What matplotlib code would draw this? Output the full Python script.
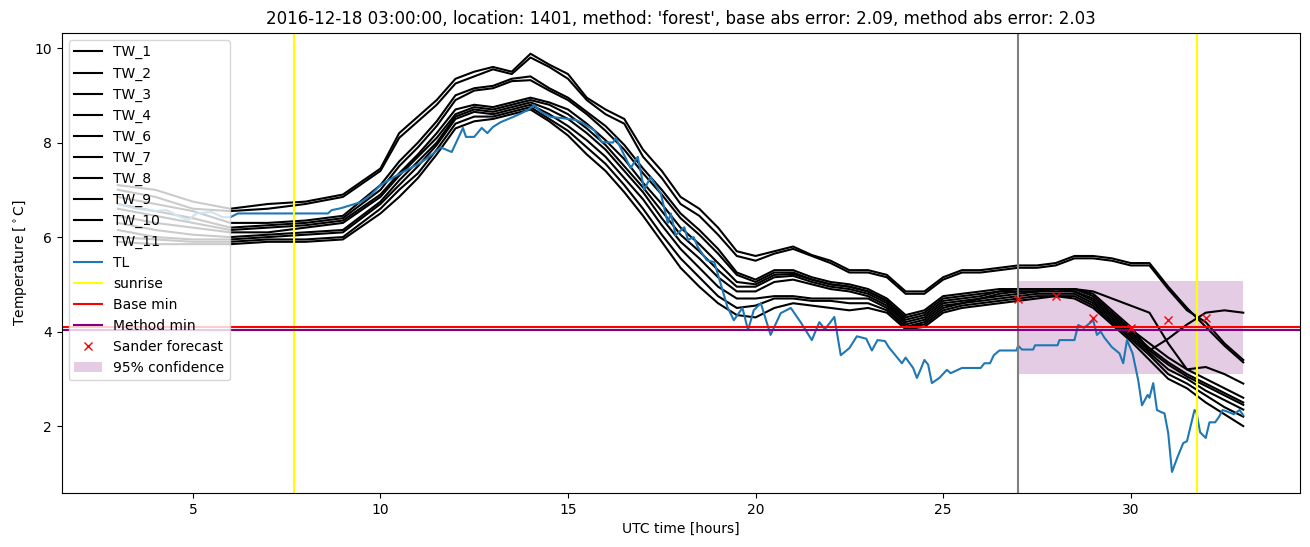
import matplotlib
matplotlib.use("Agg")
import matplotlib.pyplot as plt

# road sensor series, hours since start of previous day (UTC)
HOURS = [3, 4, 5, 6, 7, 8, 9, 10,
         10.5, 11, 11.5, 12, 12.5, 13, 13.5, 14, 14.5, 15, 15.5, 16, 16.5, 17, 17.5, 18,
         18.5, 19, 19.5, 20, 20.5, 21, 21.5, 22, 22.5, 23, 23.5, 24, 24.5, 25, 25.5, 26,
         26.5, 27, 27.5, 28, 28.5, 29, 29.5, 30, 30.5, 31, 31.5, 32, 32.5, 33]

TW_LABELS = ["TW_1", "TW_2", "TW_3", "TW_4", "TW_6", "TW_7", "TW_8", "TW_9", "TW_10", "TW_11"]

TW_1 = [7.1, 7.0, 6.75, 6.6, 6.7, 6.75, 6.9, 7.45,
        8.2, 8.55, 8.9, 9.35, 9.5, 9.6, 9.5, 9.88, 9.65, 9.45, 8.95, 8.7, 8.5, 7.85, 7.4, 6.85,
        6.6, 6.2, 5.7, 5.6, 5.7, 5.8, 5.62, 5.5, 5.3, 5.3, 5.2, 4.85, 4.85, 5.15, 5.3, 5.3,
        5.35, 5.4, 5.4, 5.45, 5.6, 5.6, 5.55, 5.45, 5.45, 4.95, 4.5, 4.1, 3.7, 3.35]
TW_2 = [7.0, 6.85, 6.6, 6.55, 6.6, 6.7, 6.85, 7.4,
        8.1, 8.45, 8.8, 9.25, 9.4, 9.55, 9.45, 9.8, 9.6, 9.35, 8.9, 8.6, 8.4, 7.7, 7.25, 6.7,
        6.45, 6.05, 5.6, 5.5, 5.65, 5.75, 5.6, 5.45, 5.25, 5.25, 5.15, 4.8, 4.8, 5.1, 5.25, 5.25,
        5.3, 5.35, 5.35, 5.4, 5.55, 5.55, 5.5, 5.4, 5.4, 4.9, 4.45, 4.2, 3.75, 3.4]
TW_3 = [6.85, 6.7, 6.55, 6.3, 6.3, 6.35, 6.45, 7.1,
        7.6, 8.0, 8.45, 9.0, 9.15, 9.2, 9.35, 9.4, 9.15, 8.95, 8.65, 8.35, 7.95, 7.45, 7.0, 6.5,
        6.15, 5.75, 5.25, 5.1, 5.3, 5.3, 5.15, 5.05, 5.0, 4.9, 4.7, 4.35, 4.45, 4.75, 4.8, 4.85,
        4.9, 4.9, 4.9, 4.9, 4.9, 4.85, 4.7, 4.55, 4.4, 3.75, 3.2, 3.25, 3.1, 2.9]
TW_4 = [6.7, 6.55, 6.4, 6.2, 6.25, 6.3, 6.4, 7.0,
        7.5, 7.9, 8.35, 8.9, 9.1, 9.15, 9.3, 9.32, 9.1, 8.9, 8.6, 8.25, 7.85, 7.35, 6.9, 6.4,
        6.05, 5.65, 5.2, 5.05, 5.25, 5.25, 5.1, 5.0, 4.95, 4.85, 4.65, 4.3, 4.4, 4.7, 4.75, 4.8,
        4.85, 4.85, 4.85, 4.9, 4.9, 4.8, 4.45, 4.1, 3.6, 3.85, 4.15, 4.4, 4.45, 4.4]
TW_6 = [6.6, 6.45, 6.3, 6.15, 6.2, 6.25, 6.35, 6.9,
        7.35, 7.75, 8.2, 8.7, 8.8, 8.75, 8.85, 8.95, 8.85, 8.7, 8.4, 8.05, 7.65, 7.15, 6.7, 6.2,
        5.85, 5.45, 5.05, 5.0, 5.2, 5.22, 5.1, 5.0, 4.95, 4.85, 4.65, 4.25, 4.35, 4.65, 4.7, 4.75,
        4.85, 4.9, 4.9, 4.9, 4.9, 4.75, 4.4, 4.05, 3.75, 3.45, 3.2, 3.0, 2.8, 2.6]
TW_7 = [6.45, 6.3, 6.2, 6.1, 6.1, 6.2, 6.3, 6.85,
        7.3, 7.7, 8.1, 8.6, 8.75, 8.7, 8.8, 8.9, 8.8, 8.6, 8.3, 7.95, 7.5, 7.05, 6.55, 6.05,
        5.7, 5.3, 4.95, 4.95, 5.15, 5.18, 5.05, 4.95, 4.9, 4.8, 4.6, 4.2, 4.3, 4.6, 4.65, 4.7,
        4.8, 4.85, 4.85, 4.9, 4.85, 4.7, 4.35, 4.0, 3.65, 3.35, 3.1, 2.9, 2.7, 2.5]
TW_8 = [6.3, 6.15, 6.05, 6.0, 6.05, 6.1, 6.15, 6.75,
        7.2, 7.6, 8.0, 8.55, 8.7, 8.65, 8.75, 8.85, 8.7, 8.5, 8.2, 7.85, 7.4, 6.95, 6.4, 5.9,
        5.55, 5.15, 4.85, 4.85, 5.05, 5.1, 5.0, 4.9, 4.85, 4.75, 4.55, 4.15, 4.25, 4.55, 4.6, 4.7,
        4.75, 4.8, 4.85, 4.85, 4.85, 4.65, 4.3, 3.95, 3.6, 3.3, 3.05, 2.85, 2.65, 2.45]
TW_9 = [6.15, 6.0, 5.95, 5.95, 6.0, 6.05, 6.1, 6.7,
        7.1, 7.5, 7.95, 8.5, 8.65, 8.6, 8.7, 8.8, 8.6, 8.35, 8.05, 7.7, 7.25, 6.8, 6.25, 5.75,
        5.35, 4.95, 4.7, 4.7, 4.75, 4.75, 4.7, 4.7, 4.7, 4.7, 4.5, 4.1, 4.2, 4.5, 4.6, 4.65,
        4.7, 4.75, 4.8, 4.8, 4.8, 4.6, 4.25, 3.9, 3.55, 3.2, 3.0, 2.75, 2.55, 2.35]
TW_10 = [6.0, 5.95, 5.9, 5.9, 5.95, 5.95, 6.0, 6.6,
         7.0, 7.35, 7.85, 8.4, 8.55, 8.55, 8.65, 8.75, 8.5, 8.25, 7.9, 7.55, 7.1, 6.6, 6.05, 5.55,
         5.15, 4.75, 4.5, 4.55, 4.7, 4.7, 4.65, 4.65, 4.6, 4.6, 4.45, 4.1, 4.15, 4.45, 4.55, 4.6,
         4.65, 4.7, 4.75, 4.75, 4.75, 4.55, 4.2, 3.85, 3.5, 3.1, 2.9, 2.65, 2.4, 2.2]
TW_11 = [5.9, 5.85, 5.85, 5.85, 5.9, 5.9, 5.95, 6.5,
         6.85, 7.25, 7.75, 8.3, 8.45, 8.5, 8.6, 8.7, 8.45, 8.15, 7.75, 7.4, 6.95, 6.45, 5.9, 5.35,
         4.95, 4.6, 4.35, 4.3, 4.5, 4.6, 4.55, 4.5, 4.45, 4.5, 4.4, 4.05, 4.1, 4.4, 4.5, 4.55,
         4.6, 4.65, 4.7, 4.75, 4.7, 4.5, 4.15, 3.8, 3.4, 3.0, 2.8, 2.5, 2.25, 2.0]

TL_HOURS = [3.0, 3.5, 4.0, 4.3, 4.6, 4.87, 5.1, 5.5, 5.8, 6.0, 6.2, 8.6, 8.7, 8.94, 9.48, 9.74,
            10.0, 10.36, 10.7, 11.07, 11.43, 11.6, 11.9, 12.2, 12.28, 12.5, 12.7, 12.85, 13.0,
            13.2, 13.56, 13.7, 13.93, 14.1, 14.28, 14.55, 14.81, 15.2, 15.4, 15.7, 15.9, 16.2,
            16.27, 16.67, 16.86, 17.03, 17.2, 17.47, 17.66, 17.74, 17.87, 18.1, 18.2, 18.35,
            18.46, 18.7, 18.9, 19.25, 19.42, 19.65, 19.8, 19.95, 20.14, 20.4, 20.67, 20.94,
            21.2, 21.5, 21.7, 21.85, 22.1, 22.27, 22.5, 22.7, 22.95, 23.1, 23.25, 23.45, 23.55,
            23.9, 24.0, 24.2, 24.3, 24.4, 24.5, 24.6, 24.7, 24.9, 25.1, 25.2, 25.5, 26.0, 26.1,
            26.25, 26.35, 26.5, 26.95, 27.0, 27.1, 27.4, 27.45, 28.05, 28.1, 28.5, 28.6, 28.75,
            28.85, 29.0, 29.1, 29.2, 29.3, 29.5, 29.7, 29.8, 29.9, 30.05, 30.2, 30.3, 30.45,
            30.5, 30.6, 30.7, 30.8, 30.9, 31.0, 31.1, 31.25, 31.4, 31.5, 31.7, 31.75, 31.85,
            32.0, 32.1, 32.25, 32.35, 32.45, 32.6, 32.75, 32.9, 33.0]
TL = [6.7, 6.6, 6.55, 6.57, 6.45, 6.36, 6.5, 6.53, 6.42, 6.42, 6.5, 6.5, 6.57, 6.61, 6.74, 6.89,
      7.1, 7.27, 7.42, 7.57, 7.78, 7.9, 7.8, 8.31, 8.12, 8.12, 8.31, 8.2, 8.33,
      8.43, 8.55, 8.6, 8.69, 8.79, 8.65, 8.54, 8.52, 8.48, 8.41, 8.26, 8.01, 8.0,
      8.1, 7.46, 7.7, 7.0, 7.27, 6.93, 6.3, 6.5, 6.04, 6.21, 5.94, 6.0,
      5.79, 5.51, 5.47, 4.52, 4.24, 4.5, 4.03, 4.45, 4.6, 3.93, 4.39, 4.5,
      4.2, 3.82, 4.2, 4.05, 4.31, 3.5, 3.65, 3.9, 3.85, 3.6, 3.82, 3.8, 3.67,
      3.33, 3.45, 3.23, 3.02, 3.2, 3.4, 3.3, 2.91, 3.02, 3.19, 3.12, 3.23, 3.23, 3.33,
      3.33, 3.5, 3.6, 3.6, 3.7, 3.62, 3.62, 3.71, 3.71, 3.82, 3.82, 4.14, 4.08,
      4.14, 4.24, 3.93, 4.0, 3.87, 3.67, 3.54, 3.33, 3.82, 3.54, 2.97, 2.44, 2.66,
      2.6, 2.91, 2.34, 2.3, 2.27, 1.85, 1.03, 1.35, 1.64, 1.68, 2.34, 2.3, 1.87,
      1.75, 2.08, 2.08, 2.19, 2.34, 2.3, 2.25, 2.34, 2.23]

SUNRISE = [7.69, 31.76]
FORECAST_TIME = 27.0
BASE_MIN = 4.1
METHOD_MIN = 4.04
SANDER_HOURS = [27, 28, 29, 30, 31, 32]
SANDER = [4.70, 4.75, 4.28, 4.08, 4.24, 4.28]
CONF_HOURS = [27, 33]
CONF_LOW = [3.11, 3.11]
CONF_HIGH = [5.07, 5.07]

TITLE = ("2016-12-18 03:00:00, location: 1401, method: 'forest', "
         "base abs error: 2.09, method abs error: 2.03")


def main() -> None:
    fig, ax = plt.subplots(figsize=(13.1, 5.47), dpi=100)
    fig.subplots_adjust(left=0.047, right=0.992, top=0.94, bottom=0.099)

    tw = [TW_1, TW_2, TW_3, TW_4, TW_6, TW_7, TW_8, TW_9, TW_10, TW_11]
    for label, vals in zip(TW_LABELS, tw):
        ax.plot(HOURS, vals, color="black", label=label)
    ax.plot(TL_HOURS, TL, color="C0", label="TL")

    for i, s in enumerate(SUNRISE):
        ax.axvline(s, color="yellow", label="sunrise" if i == 0 else None)
    ax.axvline(FORECAST_TIME, color="grey")
    ax.axhline(BASE_MIN, color="red", label="Base min")
    ax.axhline(METHOD_MIN, color="purple", label="Method min")
    ax.plot(SANDER_HOURS, SANDER, "x", color="red", linestyle="none", label="Sander forecast")
    ax.fill_between(CONF_HOURS, CONF_LOW, CONF_HIGH, color="purple", alpha=0.2,
                    linewidth=0, label="95% confidence")

    ax.set_title(TITLE)
    ax.set_xlabel("UTC time [hours]")
    ax.set_ylabel(r"Temperature [$^\circ$C]")
    ax.legend(loc="upper left")

    fig.savefig("out.png", dpi=100)
    plt.close(fig)


if __name__ == "__main__":
    main()
